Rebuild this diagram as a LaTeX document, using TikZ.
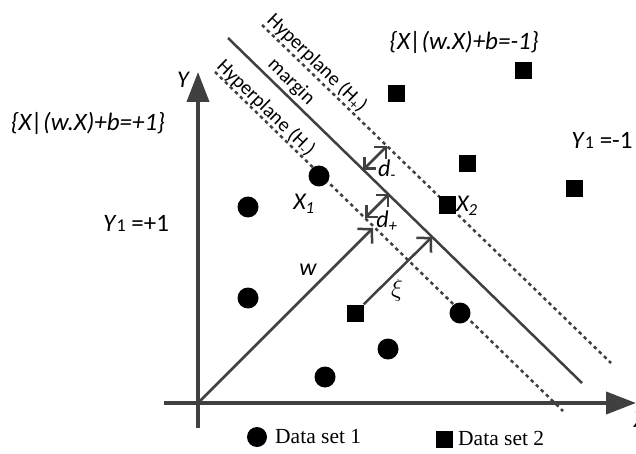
\documentclass[tikz,border=0pt]{standalone}
\usepackage{fontspec}
\setmainfont{Carlito}
\newfontfamily\legendfont{Liberation Serif}
\usetikzlibrary{arrows.meta}
\definecolor{axisgray}{HTML}{404040}

\begin{document}
\begin{tikzpicture}[
    x=1pt, y=-1pt,
    axis/.style={draw=axisgray, line width=4pt, -{Triangle[length=30pt, width=22pt]}},
    hplane/.style={draw=axisgray, line width=2.5pt},
    marginline/.style={draw=axisgray, line width=2.5pt, dash pattern=on 3.5pt off 3.5pt},
    vec/.style={draw=axisgray, line width=2.5pt, -{Straight Barb[length=10pt, width=21pt]}},
    dist/.style={draw=axisgray, line width=2.5pt, {Straight Barb[length=8pt, width=16pt]}-{Straight Barb[length=8pt, width=16pt]}},
    set1/.style={circle, fill=black, inner sep=0pt, minimum size=21pt},
    set2/.style={rectangle, fill=black, inner sep=0pt, minimum size=17pt},
    lbl/.style={font=\fontsize{24}{28}\selectfont\itshape, inner sep=0pt},
    eqn/.style={font=\fontsize{25}{30}\selectfont, inner sep=0pt},
    hlbl/.style={font=\fontsize{20}{24}\selectfont, inner sep=0pt, rotate=-44},
    legend/.style={font=\legendfont\fontsize{21.5}{26}\selectfont, inner sep=0pt}
  ]
  \useasboundingbox (0,0) rectangle (636,454);

  % axes
  \coordinate (o) at (198,403);
  \coordinate (ybot) at (198,428);
  \coordinate (ytop) at (198,72);
  \coordinate (xleft) at (164,403);
  \coordinate (xright) at (636,403);
  \draw[axis] (ybot) -- (ytop);
  \draw[axis] (xleft) -- (xright);
  \node[lbl] (ylab) at (183,80) {Y};
  \node[lbl] (xlab) at (640,420) {X};

  % hyperplanes
  \coordinate (hm1) at (215,72);
  \coordinate (hm2) at (563,411);
  \coordinate (h01) at (228,38);
  \coordinate (h02) at (582,383);
  \coordinate (hp1) at (262,25);
  \coordinate (hp2) at (611,363);
  \draw[marginline] (hm1) -- (hm2);
  \draw[hplane] (h01) -- (h02);
  \draw[marginline] (hp1) -- (hp2);
  \node[hlbl] (hminus) at (266,108) {Hyperplane (H\textsubscript{-})};
  \node[hlbl] (hmargin) at (291,82) {margin};
  \node[hlbl] (hplus) at (317,63) {Hyperplane (H\textsubscript{+})};

  % data set 1
  \node[set1] (c1) at (319,176) {};
  \node[set1] (c2) at (248,207) {};
  \node[set1] (c3) at (248,298) {};
  \node[set1] (c4) at (388,349) {};
  \node[set1] (c5) at (325,377) {};
  \node[set1] (c6) at (460,313) {};

  % data set 2
  \node[set2] (s1) at (396,94) {};
  \node[set2] (s2) at (523,71) {};
  \node[set2] (s3) at (467,164) {};
  \node[set2] (s4) at (574,189) {};
  \node[set2] (s5) at (447,205) {};
  \node[set2] (s6) at (355,313) {};

  % vectors and distances
  \coordinate (wtip) at (373,228);
  \coordinate (xitip) at (432,237);
  \coordinate (dp1) at (365,218);
  \coordinate (dp2) at (389,194);
  \coordinate (dm1) at (363,170);
  \coordinate (dm2) at (387,146);
  \draw[vec] (o) -- (wtip);
  \draw[vec] (s6.north east) -- (xitip);
  \draw[dist] (dp1) -- (dp2);
  \draw[dist] (dm1) -- (dm2);

  \node[lbl] (wlab) at (308,270) {w};
  \node[lbl] (xilab) at (397,290) {$\xi$};
  \node[lbl] (dplab) at (387,221) {d\textsubscript{+}};
  \node[lbl] (dmlab) at (387,170) {d\textsubscript{-}};
  \node[lbl] (x1lab) at (304,204) {X\textsubscript{1}};
  \node[lbl] (x2lab) at (467,206) {X\textsubscript{2}};

  % class labels
  \node[eqn] (eqplus) at (88,123) {\itshape\{X|(w.X)+b=+1\}};
  \node[eqn] (eqminus) at (464,42) {\itshape\{X|(w.X)+b=-1\}};
  \node[eqn] (yplus) at (136,223) {\textit{Y}{\fontsize{18}{18}\selectfont 1} =+1};
  \node[eqn] (yminus) at (602,140) {\textit{Y}{\fontsize{18}{18}\selectfont 1} =-1};

  % legend
  \node[set1, minimum size=20pt] (leg1) at (257,437) {};
  \node[legend, anchor=west] (leg1txt) at (275,437) {Data set 1};
  \node[set2] (leg2) at (444,439) {};
  \node[legend, anchor=west] (leg2txt) at (458,438) {Data set 2};
\end{tikzpicture}
\end{document}
